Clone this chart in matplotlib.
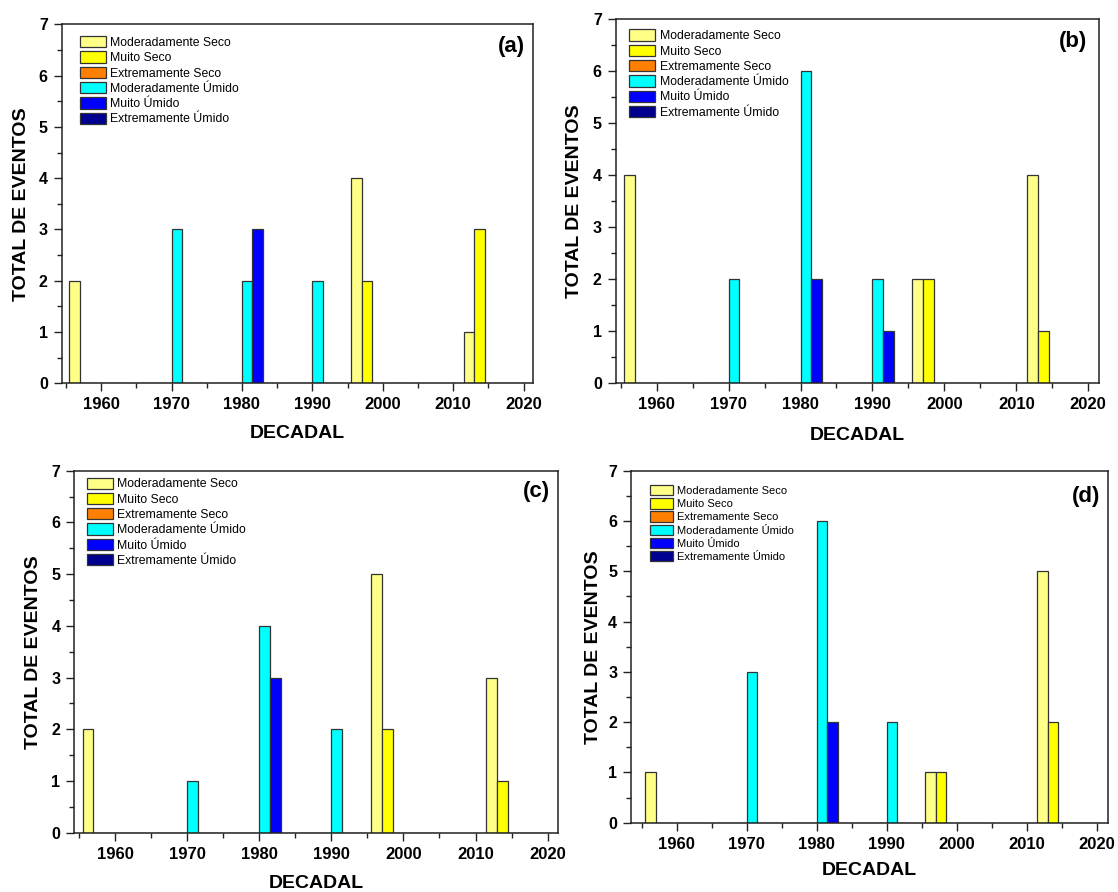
import matplotlib
matplotlib.use("Agg")
import matplotlib.pyplot as plt
from matplotlib.ticker import MultipleLocator
import numpy as np

# ==========================
# Data (events per decade, per category)
# ==========================
DECADES = [1960, 1970, 1980, 1990, 2000, 2016]

CATEGORIES = [
    "Moderadamente Seco",
    "Muito Seco",
    "Extremamente Seco",
    "Moderadamente Úmido",
    "Muito Úmido",
    "Extremamente Úmido",
]
COLORS = ["#FFFF88", "#FFFF00", "#FF8000", "#00FFFF", "#0000FF", "#000090"]

# panel (a)
a_mod_seco = [2, 0, 0, 0, 4, 1]
a_muito_seco = [0, 0, 0, 0, 2, 3]
a_ext_seco = [0, 0, 0, 0, 0, 0]
a_mod_umido = [0, 3, 2, 2, 0, 0]
a_muito_umido = [0, 0, 3, 0, 0, 0]
a_ext_umido = [0, 0, 0, 0, 0, 0]

# panel (b)
b_mod_seco = [4, 0, 0, 0, 2, 4]
b_muito_seco = [0, 0, 0, 0, 2, 1]
b_ext_seco = [0, 0, 0, 0, 0, 0]
b_mod_umido = [0, 2, 6, 2, 0, 0]
b_muito_umido = [0, 0, 2, 1, 0, 0]
b_ext_umido = [0, 0, 0, 0, 0, 0]

# panel (c)
c_mod_seco = [2, 0, 0, 0, 5, 3]
c_muito_seco = [0, 0, 0, 0, 2, 1]
c_ext_seco = [0, 0, 0, 0, 0, 0]
c_mod_umido = [0, 1, 4, 2, 0, 0]
c_muito_umido = [0, 0, 3, 0, 0, 0]
c_ext_umido = [0, 0, 0, 0, 0, 0]

# panel (d)
d_mod_seco = [1, 0, 0, 0, 1, 5]
d_muito_seco = [0, 0, 0, 0, 1, 2]
d_ext_seco = [0, 0, 0, 0, 0, 0]
d_mod_umido = [0, 3, 6, 2, 0, 0]
d_muito_umido = [0, 0, 2, 0, 0, 0]
d_ext_umido = [0, 0, 0, 0, 0, 0]

SERIES = {
    "(a)": [a_mod_seco, a_muito_seco, a_ext_seco, a_mod_umido, a_muito_umido, a_ext_umido],
    "(b)": [b_mod_seco, b_muito_seco, b_ext_seco, b_mod_umido, b_muito_umido, b_ext_umido],
    "(c)": [c_mod_seco, c_muito_seco, c_ext_seco, c_mod_umido, c_muito_umido, c_ext_umido],
    "(d)": [d_mod_seco, d_muito_seco, d_ext_seco, d_mod_umido, d_muito_umido, d_ext_umido],
}

# ==========================
# Layout (pixels of the composite picture)
# ==========================
W, H = 1118, 892
# name: (left, top, right, bottom), xlim, legend anchor, legend fontsize, tag pos
LAYOUT = {
    "(a)": ((61.7, 24.3, 532.7, 383.3), (1954.4, 2021.3), (0.038, 0.967), 8.8, (0.983, 0.938)),
    "(b)": ((615.7, 19.0, 1099.0, 383.3), (1954.3, 2021.5), (0.0275, 0.9715), 8.8, (0.975, 0.938)),
    "(c)": ((74.3, 470.7, 557.7, 832.7), (1954.35, 2021.4), (0.026, 0.981), 8.8, (0.984, 0.942)),
    "(d)": ((631.0, 470.7, 1107.9, 822.7), (1953.5, 2021.6), (0.039, 0.959), 8.0, (0.985, 0.926)),
}
XLABEL_OFF = {"(a)": 49.7, "(b)": 51.7, "(c)": 50.6, "(d)": 47.3}
YLABEL_OFF = {"(a)": 40, "(b)": 41, "(c)": 41, "(d)": 37}

BAR_W = 1.5

plt.rcParams["font.family"] = ["Liberation Sans", "DejaVu Sans"]

fig = plt.figure(figsize=(W / 100, H / 100), dpi=100)
fig.patch.set_facecolor("white")

for name, (box, xlim, leg_anchor, leg_fs, tag_pos) in LAYOUT.items():
    l, t, r, b = box
    ax = fig.add_axes([l / W, 1 - b / H, (r - l) / W, (b - t) / H])
    x = np.array(DECADES, dtype=float)

    for i, (label, color) in enumerate(zip(CATEGORIES, COLORS)):
        ax.bar(
            x + (i - 2.5) * BAR_W,
            SERIES[name][i],
            width=BAR_W,
            color=color,
            edgecolor="#333333",
            linewidth=0.9,
            label=label,
        )

    ax.set_xlim(*xlim)
    ax.set_ylim(0, 7)
    ax.xaxis.set_major_locator(MultipleLocator(10))
    ax.xaxis.set_minor_locator(MultipleLocator(5))
    ax.yaxis.set_major_locator(MultipleLocator(1))
    ax.yaxis.set_minor_locator(MultipleLocator(0.5))
    ax.tick_params(which="both", direction="out", top=False, right=False,
                   width=1.0, color="#222222")
    ax.tick_params(which="major", length=6, pad=4)
    ax.tick_params(axis="x", which="major", labelsize=12)
    ax.tick_params(axis="y", which="major", labelsize=11.5)
    ax.tick_params(which="minor", length=3.5)
    for lab in ax.get_xticklabels() + ax.get_yticklabels():
        lab.set_fontweight("bold")
    for sp in ax.spines.values():
        sp.set_linewidth(1.1)
        sp.set_color("#222222")

    w_px = r - l
    h_px = b - t
    ax.set_xlabel("DECADAL", fontsize=14, fontweight="bold")
    ax.set_ylabel("TOTAL DE EVENTOS", fontsize=14, fontweight="bold")
    ax.xaxis.set_label_coords(0.5, -XLABEL_OFF[name] / h_px)
    ax.xaxis.label.set_va("center")
    ax.yaxis.set_label_coords(-YLABEL_OFF[name] / w_px, 0.5)
    ax.yaxis.label.set_va("center")

    ax.legend(
        loc="upper left",
        bbox_to_anchor=leg_anchor,
        frameon=False,
        fontsize=leg_fs,
        handlelength=2.15,
        handleheight=1.05,
        handletextpad=0.35,
        labelspacing=0.2,
        borderpad=0,
        borderaxespad=0,
    )

    ax.text(tag_pos[0], tag_pos[1], name, transform=ax.transAxes,
            ha="right", va="center", fontsize=16, fontweight="bold")

plt.savefig("out.png", dpi=100)
plt.close()
